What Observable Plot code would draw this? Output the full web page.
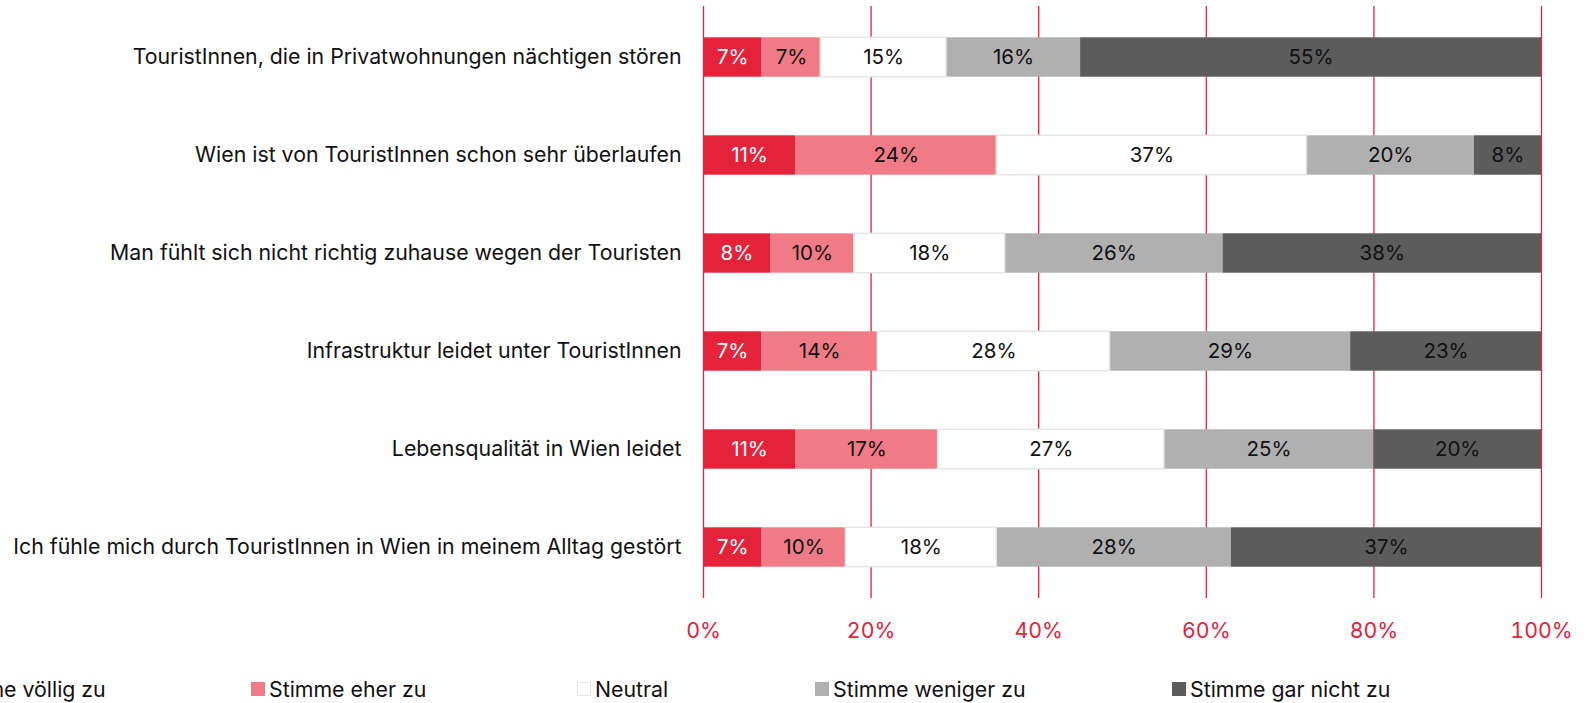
<!DOCTYPE html>
<html><head><meta charset="utf-8">
<script src="https://cdn.jsdelivr.net/npm/d3@7"></script>
<script src="https://cdn.jsdelivr.net/npm/@observablehq/plot@0.6"></script>
<style>
body{margin:0;background:#fff;font-family:Inter,sans-serif;overflow:hidden}
#wrap{position:relative;width:1587px;height:703px;overflow:hidden}
#legend{position:absolute;top:660px;left:0;width:1587px;height:43px}
.item{position:absolute;top:17px;display:flex;align-items:center;font-size:21.3px;color:#111;white-space:nowrap;line-height:24px}
.sw{width:14px;height:14px;margin-right:4px;box-sizing:border-box}
</style></head>
<body><div id="wrap"><div id="chart"></div><div id="legend"></div></div>
<script>
const categories = [
  "TouristInnen, die in Privatwohnungen nächtigen stören",
  "Wien ist von TouristInnen schon sehr überlaufen",
  "Man fühlt sich nicht richtig zuhause wegen der Touristen",
  "Infrastruktur leidet unter TouristInnen",
  "Lebensqualität in Wien leidet",
  "Ich fühle mich durch TouristInnen in Wien in meinem Alltag gestört"
];
const responses = ["Stimme völlig zu","Stimme eher zu","Neutral","Stimme weniger zu","Stimme gar nicht zu"];
const stimmeVoellig  = [7, 11, 8, 7, 11, 7];
const stimmeEher     = [7, 24, 10, 14, 17, 10];
const neutral        = [15, 37, 18, 28, 27, 18];
const stimmeWeniger  = [16, 20, 26, 29, 25, 28];
const stimmeGarNicht = [55, 8, 38, 23, 20, 37];
const colors = ["#E4223A", "#F07B87", "#FFFFFF", "#B0B0B0", "#5C5C5C"];
const xTicks = [0, 20, 40, 60, 80, 100];

const series = [stimmeVoellig, stimmeEher, neutral, stimmeWeniger, stimmeGarNicht];
const data = [];
categories.forEach((c, i) => series.forEach((s, j) => data.push({cat: c, resp: responses[j], value: s[i]})));

const red = "#E4223A";
const stackOpts = {offset: "normalize", x: "value", y: "cat"};
const inset = 29.3;
const fs = 21.3;

const chart = Plot.plot({
  width: 1587, height: 660,
  marginLeft: 703, marginRight: 46, marginTop: 6, marginBottom: 62,
  style: {fontFamily: "Inter, sans-serif", background: "#fff"},
  x: {domain: [0, 1]},
  y: {domain: categories, padding: 0},
  color: {domain: responses, range: colors},
  marks: [
    Plot.ruleX(xTicks.map(d => d / 100), {stroke: red, strokeWidth: 1.3}),
    Plot.barX(data, Plot.stackX({...stackOpts, fill: "resp", insetTop: inset, insetBottom: inset})),
    Plot.barX(data, Plot.filter(d => d.resp === "Neutral", Plot.stackX({...stackOpts, fill: "none", stroke: "#e6e6e6", strokeWidth: 1.5, insetTop: inset, insetBottom: inset}))),
    Plot.text(data, Plot.filter(d => d.resp === responses[0], Plot.stackX({...stackOpts, text: d => d.value + "%", fill: "white", fontSize: 20.5}))),
    Plot.text(data, Plot.filter(d => d.resp !== responses[0], Plot.stackX({...stackOpts, text: d => d.value + "%", fill: "#111", fontSize: 20.5}))),
    Plot.axisX(xTicks.map(d => d / 100), {tickSize: 0, tickPadding: 24, fontSize: fs, fill: red, tickFormat: d => Math.round(d * 100) + "%", label: null}),
    Plot.axisY({tickSize: 0, tickPadding: 22, fontSize: fs, fill: "#111", label: null})
  ]
});
document.getElementById("chart").appendChild(chart);

const legendLefts = [-77, 251, 577, 815, 1172];
const leg = document.getElementById("legend");
responses.forEach((r, i) => {
  const it = document.createElement("div");
  it.className = "item";
  it.style.left = legendLefts[i] + "px";
  const sw = document.createElement("div");
  sw.className = "sw";
  sw.style.background = colors[i];
  if (r === "Neutral") sw.style.border = "1px solid #e6e6e6";
  it.appendChild(sw);
  const t = document.createElement("span");
  t.textContent = r;
  it.appendChild(t);
  leg.appendChild(it);
});
</script></body></html>
